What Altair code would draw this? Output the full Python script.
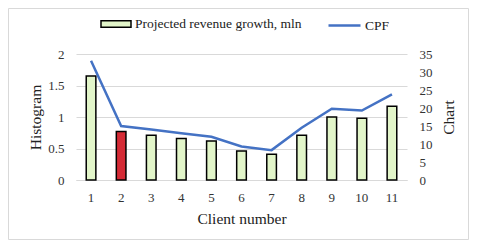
import altair as alt
import pandas as pd

clients = [1, 2, 3, 4, 5, 6, 7, 8, 9, 10, 11]
revenue_growth = [1.65, 0.77, 0.71, 0.66, 0.62, 0.46, 0.41, 0.71, 1.0, 0.98, 1.17]
cpf = [33.1, 15.0, 14.0, 13.0, 12.0, 9.3, 8.3, 14.5, 19.8, 19.3, 23.8]
bar_label = "Projected revenue growth, mln"
line_label = "CPF"
highlight_client = 2

df = pd.DataFrame({
    "client": clients,
    "growth": revenue_growth,
    "cpf": cpf,
    "bar_series": [bar_label] * len(clients),
    "line_series": [line_label] * len(clients),
})

FONT = "Liberation Serif"
W, H = 331, 126
PL, PT, PR, PB = 68, 46, 62, 60

x_enc = alt.X(
    "client:O",
    scale=alt.Scale(paddingInner=0.68, paddingOuter=0.34),
    axis=alt.Axis(
        title="Client number", labelAngle=0, ticks=False, tickSize=0,
        domain=True, domainColor="#d9d9d9", labelPadding=11, titlePadding=7,
        labelFontSize=13, titleFontSize=15.5,
    ),
)

left_axis = alt.Axis(
    title="Histogram", values=[0, 0.5, 1, 1.5, 2], format="~g", grid=True,
    gridColor="#d9d9d9", labelOverlap=False,
    domain=False, ticks=False, tickSize=0, labelPadding=12,
    titleX=-41, titleY=H / 2, titleBaseline="middle", titleAngle=270,
    labelFontSize=13, titleFontSize=15.5,
)

bars = alt.Chart(df).mark_bar(stroke="black", strokeWidth=1.5).encode(
    x=x_enc,
    y=alt.Y("growth:Q", scale=alt.Scale(domain=[0, 2]), axis=left_axis),
    fill=alt.condition(
        alt.datum.client == highlight_client,
        alt.value("#d42a35"),
        alt.Fill(
            "bar_series:N",
            scale=alt.Scale(domain=[bar_label], range=["#e2f5c9"]),
            legend=alt.Legend(
                title=None, orient="none", legendX=24, legendY=-46, padding=0,
                symbolType="M-1,-0.22H1V0.22H-1Z", symbolSize=900,
                symbolStrokeColor="black", symbolStrokeWidth=1.5, labelLimit=400,
                labelFontSize=13.5, labelOffset=3, labelFont=FONT, labelColor="#222",
            ),
        ),
    ),
)

right_axis = alt.Axis(
    title="Chart", orient="right", values=[0, 5, 10, 15, 20, 25, 30, 35], grid=False,
    domain=False, ticks=False, tickSize=0, labelPadding=12,
    titleX=41, titleY=H / 2, titleBaseline="middle", titleAngle=270,
    labelFontSize=13, titleFontSize=15.5,
)

line = alt.Chart(df).mark_line(strokeWidth=2.5).encode(
    x=alt.X("client:O"),
    y=alt.Y("cpf:Q", scale=alt.Scale(domain=[0, 35]), axis=right_axis),
    stroke=alt.Stroke(
        "line_series:N",
        scale=alt.Scale(domain=[line_label], range=["#4472c4"]),
        legend=alt.Legend(
            title=None, orient="none", legendX=251, legendY=-46, padding=0,
            symbolType="stroke", symbolSize=1024, symbolStrokeWidth=2.5,
            labelFontSize=13.5, labelOffset=3, labelFont=FONT, labelColor="#222",
        ),
    ),
)

border = alt.Chart(pd.DataFrame({"k": [0]})).mark_rect(
    fill="transparent", stroke="#d9d9d9", strokeWidth=1
).encode(
    x=alt.value(-PL + 0.5), x2=alt.value(W + PR - 0.5),
    y=alt.value(-PT + 0.5), y2=alt.value(H + PB - 0.5),
)

chart = alt.layer(bars, line, border).resolve_scale(
    y="independent", fill="independent", stroke="independent"
).properties(
    width=W, height=H,
    autosize=alt.AutoSizeParams(type="none"),
    padding={"left": PL, "top": PT, "right": PR, "bottom": PB},
    background="white",
).configure_view(stroke=None).configure_axis(
    labelFont=FONT, titleFont=FONT, labelColor="#333", titleColor="#222",
    titleFontWeight="normal",
).configure_legend(labelFont=FONT)

chart.save("out.html", embed_options={"renderer": "svg", "actions": False})
